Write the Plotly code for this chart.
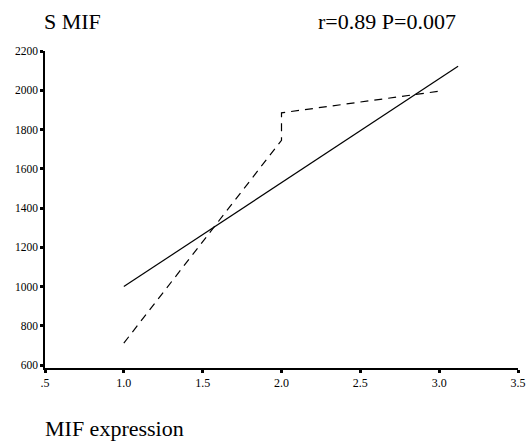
import plotly.graph_objects as go

fit_x = [1.0, 3.12]
fit_y = [1000, 2122]

obs_x = [1.0, 2.0, 2.0, 3.0, 3.0]
obs_y = [712, 1745, 1885, 1995, 1978]

x_ticks = [0.5, 1.0, 1.5, 2.0, 2.5, 3.0, 3.5]
x_tick_labels = [".5", "1.0", "1.5", "2.0", "2.5", "3.0", "3.5"]
y_ticks = [600, 800, 1000, 1200, 1400, 1600, 1800, 2000, 2200]

font_family = "Liberation Serif"

pl, pr, pt, pb = 45, 518, 51, 368
W, H = 526, 443

fig = go.Figure()
fig.add_trace(go.Scatter(x=fit_x, y=fit_y, mode="lines",
                         line=dict(color="black", width=1.2), showlegend=False))
fig.add_trace(go.Scatter(x=obs_x, y=obs_y, mode="lines",
                         line=dict(color="black", width=1.2, dash="8px,6px"), showlegend=False))

fig.update_layout(
    width=W, height=H, autosize=False,
    margin=dict(l=pl, r=W - pr, t=pt, b=H - pb, pad=0),
    paper_bgcolor="white", plot_bgcolor="white",
    font=dict(family=font_family, color="black"),
    xaxis=dict(range=[0.5, 3.5], tickvals=x_ticks, ticktext=x_tick_labels,
               automargin=False, ticklabeloverflow="allow",
               showgrid=False, zeroline=False, showline=True, linecolor="black", linewidth=1.5,
               ticks="outside", ticklen=3, tickwidth=3, tickcolor="black",
               tickfont=dict(size=12, family=font_family)),
    yaxis=dict(range=[585, 2200], tickvals=y_ticks,
               automargin=False, ticklabeloverflow="allow",
               showgrid=False, zeroline=False, showline=True, linecolor="black", linewidth=1.5,
               ticks="outside", ticklen=3, tickwidth=3, tickcolor="black",
               tickfont=dict(size=11.5, family=font_family)),
)

def px(xp):
    return (xp - pl) / (pr - pl)
def py(yp):
    return (pb - yp) / (pb - pt)

fig.add_annotation(text="S MIF", x=px(42), y=py(22), xref="paper", yref="paper",
                   xanchor="left", yanchor="middle", showarrow=False,
                   font=dict(size=22, family=font_family))
fig.add_annotation(text="r=0.89 P=0.007", x=px(316), y=py(22), xref="paper", yref="paper",
                   xanchor="left", yanchor="middle", showarrow=False,
                   font=dict(size=22, family=font_family))
fig.add_annotation(text="MIF expression", x=px(43), y=py(428), xref="paper", yref="paper",
                   xanchor="left", yanchor="middle", showarrow=False,
                   font=dict(size=22, family=font_family))

fig.write_html("out.html", config={"displayModeBar": False})
